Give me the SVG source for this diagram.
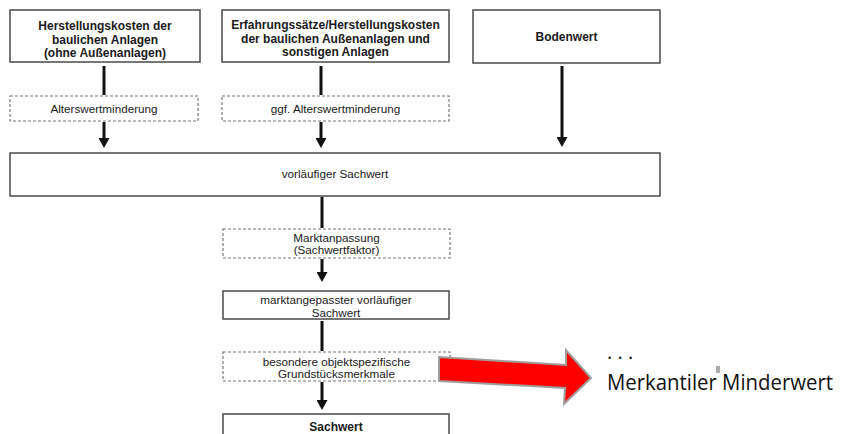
<svg xmlns="http://www.w3.org/2000/svg" width="850" height="434" viewBox="0 0 850 434">
<style>
  .box { fill: #fff; stroke: #4a4a4a; stroke-width: 1.5; }
  .dbox { fill: #fff; stroke: #777; stroke-width: 1.2; stroke-dasharray: 3 2; }
  .bt { font-family: "Liberation Sans", Arial, sans-serif; font-size: 12px; font-weight: bold; fill: #1a1a1a; text-anchor: middle; }
  .nt { font-family: "Liberation Sans", Arial, sans-serif; font-size: 11.7px; fill: #1a1a1a; text-anchor: middle; }
  .conn { stroke: #111; stroke-width: 3; fill: none; }
  .note { font-family: "Open Sans", "Noto Sans", sans-serif; fill: #111; }
</style>
<defs>
  <marker id="ah" markerUnits="userSpaceOnUse" markerWidth="10" markerHeight="11" refX="5" refY="5.5" orient="auto">
    <path d="M0,0 L10,5.5 L0,11 z" fill="#111"/>
  </marker>
</defs>
<rect width="850" height="434" fill="#fff"/>

<g id="connectors">
  <line class="conn" x1="104" y1="66" x2="104" y2="95"/>
  <line class="conn" x1="104" y1="122" x2="104" y2="143" marker-end="url(#ah)"/>
  <line class="conn" x1="321" y1="66" x2="321" y2="95"/>
  <line class="conn" x1="321" y1="122" x2="321" y2="143" marker-end="url(#ah)"/>
  <line class="conn" x1="562" y1="66" x2="562" y2="142" marker-end="url(#ah)"/>
  <line class="conn" x1="322" y1="197" x2="322" y2="228"/>
  <line class="conn" x1="322" y1="259" x2="322" y2="277" marker-end="url(#ah)"/>
  <line class="conn" x1="322" y1="321" x2="322" y2="351"/>
  <line class="conn" x1="322" y1="382" x2="322" y2="405" marker-end="url(#ah)"/>
</g>

<g id="herstellungskosten">
  <rect class="box" x="10" y="10" width="190" height="52"/>
  <text class="bt" x="105" y="30">Herstellungskosten der</text>
  <text class="bt" x="105" y="44">baulichen Anlagen</text>
  <text class="bt" x="105" y="57">(ohne Außenanlagen)</text>
</g>

<g id="erfahrungssaetze">
  <rect class="box" x="222" y="10" width="227" height="52"/>
  <text class="bt" x="335.5" y="29">Erfahrungssätze/Herstellungskosten</text>
  <text class="bt" x="335.5" y="43">der baulichen Außenanlagen und</text>
  <text class="bt" x="335.5" y="56">sonstigen Anlagen</text>
</g>

<g id="bodenwert">
  <rect class="box" x="473" y="10" width="187" height="53"/>
  <text class="bt" x="566.5" y="41">Bodenwert</text>
</g>

<g id="alterswertminderung">
  <rect class="dbox" x="10" y="96" width="188" height="25"/>
  <text class="nt" x="104" y="113">Alterswertminderung</text>
</g>

<g id="ggf-alterswertminderung">
  <rect class="dbox" x="222" y="96" width="227" height="25"/>
  <text class="nt" x="335.5" y="113">ggf. Alterswertminderung</text>
</g>

<g id="vorlaeufiger-sachwert">
  <rect class="box" x="10" y="153" width="650" height="43"/>
  <text class="nt" x="335" y="178">vorläufiger Sachwert</text>
</g>

<g id="marktanpassung">
  <rect class="dbox" x="223" y="229" width="227" height="29"/>
  <text class="nt" x="336.5" y="242">Marktanpassung</text>
  <text class="nt" x="336.5" y="254">(Sachwertfaktor)</text>
</g>

<g id="marktangepasster-sachwert">
  <rect class="box" x="223" y="291" width="226" height="28"/>
  <text class="nt" x="336" y="304">marktangepasster vorläufiger</text>
  <text class="nt" x="336" y="316.5">Sachwert</text>
</g>

<g id="besondere-merkmale">
  <rect class="dbox" x="223" y="352" width="227" height="29"/>
  <text class="nt" x="336.5" y="366">besondere objektspezifische</text>
  <text class="nt" x="336.5" y="378">Grundstücksmerkmale</text>
</g>

<g id="sachwert">
  <rect class="box" x="223" y="414" width="226" height="30"/>
  <text class="bt" x="336" y="431">Sachwert</text>
</g>

<g id="red-arrow">
  <polygon points="439,357 566,365 566,350 591,378 564,404 565,388 439,381" fill="#ff0000" stroke="#9e9e9e" stroke-width="2" stroke-linejoin="miter"/>
</g>

<g id="merkantiler-minderwert">
  <text class="note" x="607" y="359" font-size="20">. . .</text>
  <text class="note" x="607" y="390" font-size="22" textLength="226" lengthAdjust="spacingAndGlyphs">Merkantiler Minderwert</text>
  <rect x="716" y="366" width="4" height="7" fill="#aaa"/>
</g>
</svg>
